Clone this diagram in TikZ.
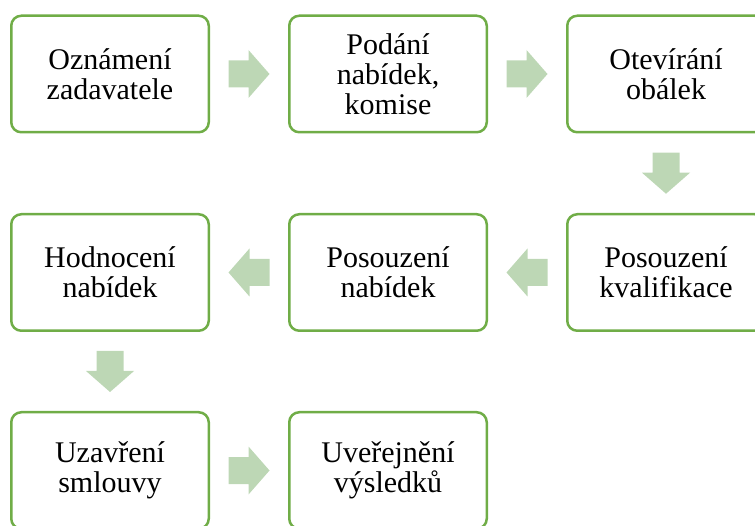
\documentclass[tikz,border=0pt]{standalone}
\usepackage{fontspec}
\setmainfont{Liberation Serif}
\newfontfamily\boxfont{Liberation Serif}
\usetikzlibrary{calc}
\definecolor{boxgreen}{HTML}{70AD47}
\definecolor{arrgreen}{HTML}{BDD7B5}
\tikzset{
  stepbox/.style={draw=boxgreen, line width=2.5pt, rounded corners=10pt, fill=white,
    minimum width=197.5pt, minimum height=116.5pt, align=center, inner sep=0pt,
    font=\boxfont\fontsize{30}{30}\selectfont},
  blockarr/.style={fill=arrgreen, draw=none}
}
\newcommand{\blockarrow}[2]{%
  \fill[blockarr, shift={(#1)}, rotate=#2]
    (-20.5pt,-13.5pt) -- (-0.5pt,-13.5pt) -- (-0.5pt,-24pt) -- (20.5pt,0pt)
    -- (-0.5pt,24pt) -- (-0.5pt,13.5pt) -- (-20.5pt,13.5pt) -- cycle;}
\begin{document}
\begin{tikzpicture}[x=1pt,y=1pt]
\useasboundingbox (0,0) rectangle (755,-526);
\clip (0,0) rectangle (755,-526);
\node[stepbox] (b1) at (110,-74) {Oznámení\\zadavatele};
\node[stepbox] (b2) at (388,-74) {Podání\\nabídek,\\komise};
\node[stepbox] (b3) at (666,-74) {Otevírání\\obálek};
\node[stepbox] (b4) at (666,-272.5) {Posouzení\\kvalifikace};
\node[stepbox] (b5) at (388,-272.5) {Posouzení\\nabídek};
\node[stepbox] (b6) at (110,-272.5) {Hodnocení\\nabídek};
\node[stepbox] (b7) at (110,-470.5) {Uzavření\\smlouvy};
\node[stepbox] (b8) at (388,-470.5) {Uveřejnění\\výsledků};
\coordinate (m12) at ($(b1.east)!0.5!(b2.west)$);
\coordinate (m23) at ($(b2.east)!0.5!(b3.west)$);
\coordinate (m34) at ($(b3.south)!0.5!(b4.north)$);
\coordinate (m45) at ($(b4.west)!0.5!(b5.east)$);
\coordinate (m56) at ($(b5.west)!0.5!(b6.east)$);
\coordinate (m67) at ($(b6.south)!0.5!(b7.north)$);
\coordinate (m78) at ($(b7.east)!0.5!(b8.west)$);
\blockarrow{m12}{0}
\blockarrow{m23}{0}
\blockarrow{m34}{-90}
\blockarrow{m45}{180}
\blockarrow{m56}{180}
\blockarrow{m67}{-90}
\blockarrow{m78}{0}
\end{tikzpicture}
\end{document}
